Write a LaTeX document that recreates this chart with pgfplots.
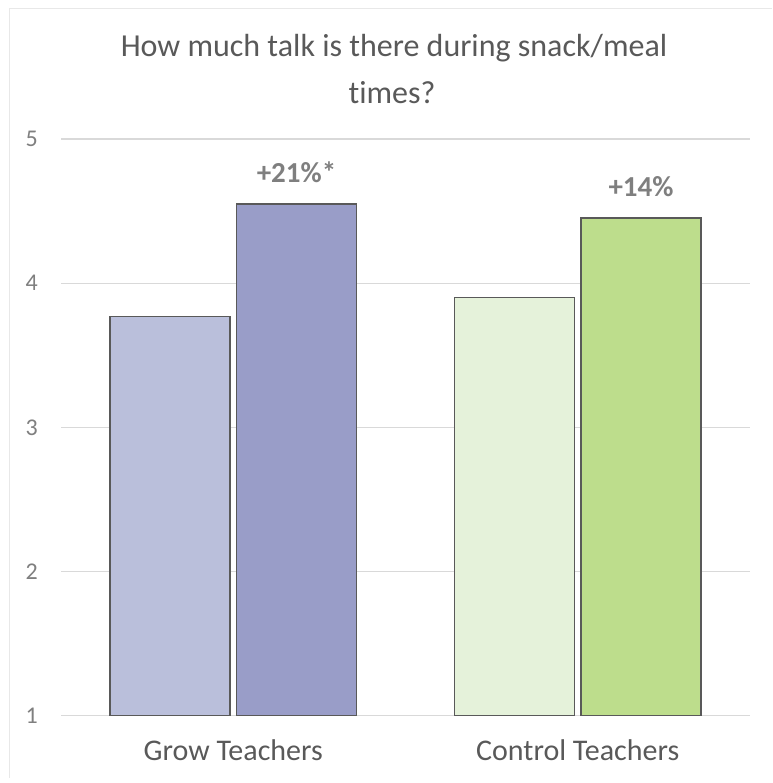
\documentclass[border=0pt]{standalone}
\usepackage{pgfplots}
\pgfplotsset{compat=1.18}
\usepackage{fontspec}
\setmainfont{Carlito}[Ligatures=NoCommon]
\definecolor{bA}{HTML}{BABFDB}
\definecolor{bB}{HTML}{999DC8}
\definecolor{bC}{HTML}{E5F2DA}
\definecolor{bD}{HTML}{BDDD8C}
\definecolor{edge}{HTML}{595959}
\definecolor{gridc}{HTML}{D9D9D9}
\definecolor{txt}{HTML}{595959}
\definecolor{tickc}{HTML}{7F7F7F}
\definecolor{frame}{HTML}{E8E8E8}
\begin{document}
\begin{tikzpicture}
\useasboundingbox (0pt,0pt) rectangle (772pt,783pt);
\draw[frame, line width=1pt] (9.5pt,5pt) -- (9.5pt,774pt) -- (772pt,774pt);
\node[font=\fontsize{32}{38}\selectfont, text=txt, anchor=base, inner sep=0pt] at (394pt,726.3pt) {How much talk is there during snack/meal};
\node[font=\fontsize{32}{38}\selectfont, text=txt, anchor=base, inner sep=0pt] at (392pt,679.3pt) {times?};
\begin{axis}[
  at={(61pt,67.3pt)}, anchor=south west,
  scale only axis, width=689pt, height=576.7pt,
  xmin=-0.5, xmax=1.5, ymin=1, ymax=5,
  ytick={1,2,3,4,5},
  xtick={0,1},
  xticklabels={Grow Teachers, Control Teachers},
  ymajorgrids, grid style={gridc, line width=1.2pt},
  axis line style={draw=none},
  major tick length=0pt,
  /pgf/number format/assume math mode=true,
  yticklabel style={font=\fontsize{24}{28}\selectfont, text=tickc, anchor=east, inner sep=0pt, xshift=-23pt},
  xticklabel style={font=\fontsize{30}{36}\selectfont, text=txt, anchor=base, inner sep=0pt, yshift=-44.8pt},
  ybar, bar width=0.348,
]
\addplot[bar shift=0pt, fill=bA, draw=edge, line width=1.6pt] coordinates {(-0.1836,3.77)};
\addplot[bar shift=0pt, fill=bB, draw=edge, line width=1.6pt] coordinates {(0.1836,4.55)};
\addplot[bar shift=0pt, fill=bC, draw=edge, line width=1.6pt] coordinates {(0.8164,3.90)};
\addplot[bar shift=0pt, fill=bD, draw=edge, line width=1.6pt] coordinates {(1.1836,4.45)};
\node[font=\bfseries\fontsize{29}{32}\selectfont, text=tickc, anchor=base, inner sep=0pt, yshift=21pt] at (axis cs:0.1836,4.55) {+21\%*};
\node[font=\bfseries\fontsize{29}{32}\selectfont, text=tickc, anchor=base, inner sep=0pt, yshift=21.5pt] at (axis cs:1.1836,4.45) {+14\%};
\end{axis}
\end{tikzpicture}
\end{document}
